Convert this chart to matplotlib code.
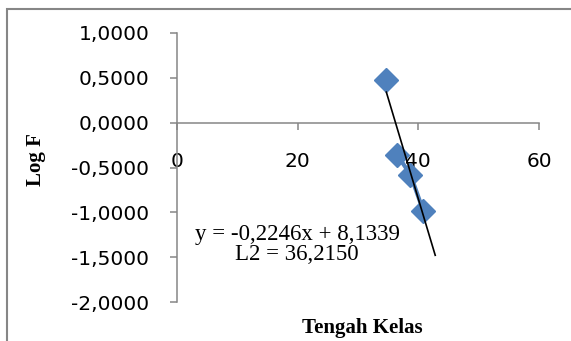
import matplotlib.pyplot as plt
from matplotlib.patches import Rectangle
from matplotlib.ticker import FuncFormatter

# data
tengah_kelas = [34.7, 36.5, 38.7, 40.8]
log_f = [0.48, -0.36, -0.58, -0.98]

slope = -0.2246
intercept = 8.1339
trend_x = [34.7, 42.8]

eq_text = "y = -0,2246x + 8,1339\nL2 = 36,2150"

blue = "#4F81BD"
grey = "#868686"

fig = plt.figure(figsize=(5.71, 3.41), dpi=100)
ax = fig.add_axes([177 / 571, 1 - 302 / 341, 362 / 571, 269 / 341])

# connector line only between the last three points, like the original
ax.plot(tengah_kelas[1:], log_f[1:], color=blue, lw=3, zorder=2)
ax.plot(tengah_kelas, log_f, ls="none", marker="D", ms=12.5, color=blue,
        mec=blue, zorder=3)

ty = [slope * x + intercept for x in trend_x]
ax.plot(trend_x, ty, color="black", lw=1.2, zorder=4)

ax.set_xlim(0, 60)
ax.set_ylim(-2, 1)
ax.set_xticks([0, 20, 40, 60])
ax.set_yticks([1, 0.5, 0, -0.5, -1, -1.5, -2])
ax.yaxis.set_major_formatter(FuncFormatter(lambda v, p: f"{v:.4f}".replace(".", ",")))

for s in ["top", "right"]:
    ax.spines[s].set_visible(False)
ax.spines["bottom"].set_position(("data", 0))
for s in ["left", "bottom"]:
    ax.spines[s].set_color(grey)
    ax.spines[s].set_linewidth(1.1)

ax.tick_params(axis="both", direction="out", length=5, width=1.1, color=grey,
               labelsize=14.5)
ax.tick_params(axis="y", pad=15)
ax.tick_params(axis="x", pad=16)
for lab in ax.get_xticklabels() + ax.get_yticklabels():
    lab.set_family("DejaVu Sans")

ax.text(19.9, -1.36, eq_text, ha="center", va="center", multialignment="center",
        family="Liberation Serif", fontsize=16.5, linespacing=0.95)

fig.text(362 / 571, 1 - 328 / 341, "Tengah Kelas", ha="center", va="center",
         family="Liberation Serif", fontweight="bold", fontsize=15)
fig.text(36 / 571, 1 - 160 / 341, "Log F", ha="center", va="center", rotation=90,
         family="Liberation Serif", fontweight="bold", fontsize=15)

# chart area frame (runs off the right and bottom edges in the reference)
fig.patches.append(Rectangle((7 / 571, -0.1), 1.2, 1 - 9 / 341 + 0.1,
                             transform=fig.transFigure, fill=False,
                             edgecolor=grey, lw=1.5))

fig.savefig("out.png", dpi=100)
